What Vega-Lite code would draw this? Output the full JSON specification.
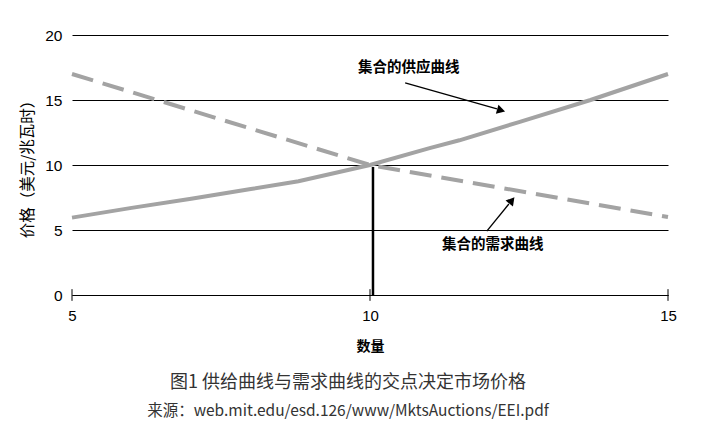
{
  "$schema": "https://vega.github.io/schema/vega-lite/v6.json",
  "width": 596,
  "height": 260,
  "autosize": {"type": "none"},
  "padding": {"left": 72, "top": 35, "right": 52, "bottom": 142},
  "background": "white",
  "config": {"view": {"stroke": null}},
  "title": {
    "text": "图1 供给曲线与需求曲线的交点决定市场价格",
    "subtitle": "来源：web.mit.edu/esd.126/www/MktsAuctions/EEI.pdf",
    "orient": "bottom",
    "anchor": "middle",
    "dx": -22,
    "offset": 21,
    "font": "Noto Sans CJK SC",
    "fontSize": 18,
    "fontWeight": "normal",
    "color": "#333333",
    "subtitleFont": "Noto Sans CJK SC",
    "subtitleFontSize": 15.5,
    "subtitleColor": "#333333",
    "subtitlePadding": 12
  },
  "layer": [
    {
      "data": {"values": [
        {"q": 5, "p": 5.95}, {"q": 6, "p": 6.7}, {"q": 7, "p": 7.4}, {"q": 8, "p": 8.15},
        {"q": 8.8, "p": 8.75}, {"q": 10, "p": 10}, {"q": 11, "p": 11.3}, {"q": 11.5, "p": 11.9},
        {"q": 12.5, "p": 13.3}, {"q": 13.7, "p": 15}, {"q": 15, "p": 17}
      ]},
      "mark": {"type": "line", "color": "#a3a3a3", "strokeWidth": 4},
      "encoding": {
        "x": {"field": "q", "type": "quantitative", "scale": {"domain": [5, 15], "nice": false},
          "axis": {"values": [5, 10, 15], "format": "d", "labelFlush": false, "title": "数量", "titleFont": "Noto Sans CJK SC", "titleFontSize": 14, "titleFontWeight": "bold", "titleColor": "black", "titlePadding": 16,
            "labelFont": "Liberation Sans", "labelFontSize": 15, "labelColor": "black", "labelPadding": 13,
            "domain": true, "domainColor": "black", "domainWidth": 1, "ticks": false, "grid": false}},
        "y": {"field": "p", "type": "quantitative", "scale": {"domain": [0, 20], "nice": false},
          "axis": {"values": [0, 5, 10, 15, 20], "title": "价格（美元/兆瓦时）", "titleFont": "Noto Sans CJK SC", "titleFontSize": 15.5, "titleFontWeight": "normal", "titleColor": "black", "titlePadding": 9,
            "labelFont": "Liberation Sans", "labelFontSize": 15.5, "labelColor": "black", "labelPadding": 10,
            "domain": false, "ticks": false, "grid": true, "gridColor": "black", "gridWidth": 1, "gridOpacity": 1}}
      }
    },
    {
      "data": {"values": [{"q": 5, "p": 17}, {"q": 10, "p": 10}, {"q": 15, "p": 6}]},
      "mark": {"type": "line", "color": "#a3a3a3", "strokeWidth": 4, "strokeDash": [22, 10]},
      "encoding": {
        "x": {"field": "q", "type": "quantitative"},
        "y": {"field": "p", "type": "quantitative"}
      }
    },
    {
      "data": {"values": [{"q": 10.05, "p": 0, "p2": 9.85}]},
      "mark": {"type": "rule", "color": "black", "strokeWidth": 2.5},
      "encoding": {
        "x": {"field": "q", "type": "quantitative"},
        "y": {"field": "p", "type": "quantitative"},
        "y2": {"field": "p2"}
      }
    },
    {
      "data": {"values": [{"q": 5, "p": -0.45, "p2": 0.45}, {"q": 10, "p": -0.45, "p2": 0.45}, {"q": 15, "p": -0.45, "p2": 0.45}]},
      "mark": {"type": "rule", "color": "black", "strokeWidth": 1},
      "encoding": {
        "x": {"field": "q", "type": "quantitative"},
        "y": {"field": "p", "type": "quantitative"},
        "y2": {"field": "p2"}
      }
    },
    {
      "data": {"values": [{"q": 10.59, "p": 16.31, "q2": 12.13, "p2": 14.31}, {"q": 11.96, "p": 4.92, "q2": 12.33, "p2": 7.0}]},
      "mark": {"type": "rule", "color": "black", "strokeWidth": 1.3},
      "encoding": {
        "x": {"field": "q", "type": "quantitative"},
        "y": {"field": "p", "type": "quantitative"},
        "x2": {"field": "q2"},
        "y2": {"field": "p2"}
      }
    },
    {
      "data": {"values": [{"q": 12.2, "p": 14.2}]},
      "mark": {"type": "point", "shape": "triangle-right", "filled": true, "color": "black", "opacity": 1, "size": 90, "angle": 16},
      "encoding": {
        "x": {"field": "q", "type": "quantitative"},
        "y": {"field": "p", "type": "quantitative"}
      }
    },
    {
      "data": {"values": [{"q": 12.38, "p": 7.28}]},
      "mark": {"type": "point", "shape": "triangle-right", "filled": true, "color": "black", "opacity": 1, "size": 90, "angle": 309},
      "encoding": {
        "x": {"field": "q", "type": "quantitative"},
        "y": {"field": "p", "type": "quantitative"}
      }
    },
    {
      "data": {"values": [{"q": 10.65, "p": 17.46, "label": "集合的供应曲线"}, {"q": 12.06, "p": 3.85, "label": "集合的需求曲线"}]},
      "mark": {"type": "text", "font": "Noto Sans CJK SC", "fontSize": 14.5, "fontWeight": "bold", "color": "black", "align": "center", "baseline": "middle"},
      "encoding": {
        "x": {"field": "q", "type": "quantitative"},
        "y": {"field": "p", "type": "quantitative"},
        "text": {"field": "label"}
      }
    }
  ]
}
